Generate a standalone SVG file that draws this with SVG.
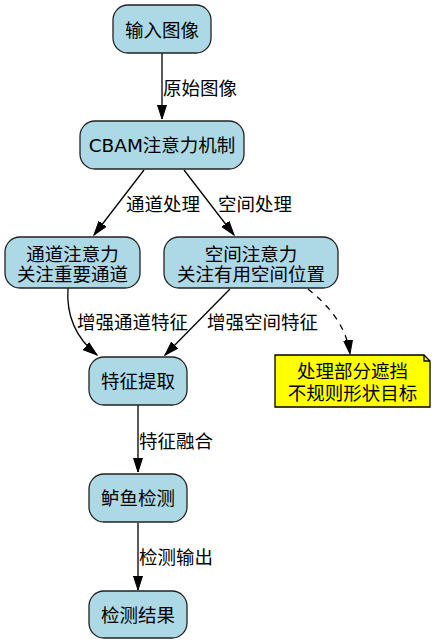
<svg xmlns="http://www.w3.org/2000/svg" width="436" height="644" viewBox="0 0 436 644">
<defs>
<style>
text{font-family:"DejaVu Sans","Noto Sans CJK SC",sans-serif;font-size:18.5px;fill:#000}
.n{fill:#ADD8E6;stroke:#222;stroke-width:1.3}
.m{text-anchor:middle}
.e{fill:none;stroke:#000;stroke-width:1.3}
.d{stroke-dasharray:6,6}
</style>
<marker id="a" markerUnits="userSpaceOnUse" markerWidth="16" markerHeight="12" refX="14" refY="5" orient="auto">
<path d="M0,0.5 L14,5 L0,9.5 z" fill="#000" stroke="#000"/>
</marker>
</defs>
<rect width="436" height="644" fill="#fff"/>
<g id="edges">
<path class="e" d="M162,53 L162,119" marker-end="url(#a)"/>
<text x="163" y="95">原始图像</text>
<path class="e" d="M144,170 L94,235" marker-end="url(#a)"/>
<text x="126" y="211">通道处理</text>
<path class="e" d="M184,170 L234,235" marker-end="url(#a)"/>
<text x="218" y="211">空间处理</text>
<path class="e" d="M68,288 C66,316 76,338 97,355" marker-end="url(#a)"/>
<text x="77" y="329">增强通道特征</text>
<path class="e" d="M230,289 L165,355" marker-end="url(#a)"/>
<text x="207" y="329">增强空间特征</text>
<path class="e d" d="M308,289 C328,305 346,325 350,354" marker-end="url(#a)"/>
<path class="e" d="M138,405 L138,472" marker-end="url(#a)"/>
<text x="139" y="448">特征融合</text>
<path class="e" d="M138,523 L138,590" marker-end="url(#a)"/>
<text x="139" y="564">检测输出</text>
</g>
<g id="n1"><rect class="n" x="113" y="5" width="98" height="48" rx="15"/><text class="m" x="162" y="37">输入图像</text></g>
<g id="n2"><rect class="n" x="80" y="121" width="164" height="48" rx="15"/><text class="m" x="162" y="152">CBAM注意力机制</text></g>
<g id="n3"><rect class="n" x="5" y="237" width="135" height="51" rx="15"/><text class="m" x="72.5" y="261">通道注意力</text><text class="m" x="72.5" y="281">关注重要通道</text></g>
<g id="n4"><rect class="n" x="164" y="237" width="174" height="51" rx="15"/><text class="m" x="251" y="261">空间注意力</text><text class="m" x="251" y="281">关注有用空间位置</text></g>
<g id="n5"><rect class="n" x="89" y="357" width="98" height="48" rx="15"/><text class="m" x="138" y="388">特征提取</text></g>
<g id="note"><path d="M275,355 L424,355 L430,361 L430,407 L275,407 Z" fill="#FFFF00" stroke="#000" stroke-width="1.3"/><path d="M424,355 L424,361 L430,361" fill="none" stroke="#000" stroke-width="1.3"/><text class="m" x="352.5" y="378">处理部分遮挡</text><text class="m" x="352.5" y="400">不规则形状目标</text></g>
<g id="n6"><rect class="n" x="89" y="474" width="98" height="48" rx="15"/><text class="m" x="138" y="505">鲈鱼检测</text></g>
<g id="n7"><rect class="n" x="89" y="591" width="98" height="47" rx="15"/><text class="m" x="138" y="622">检测结果</text></g>
</svg>
